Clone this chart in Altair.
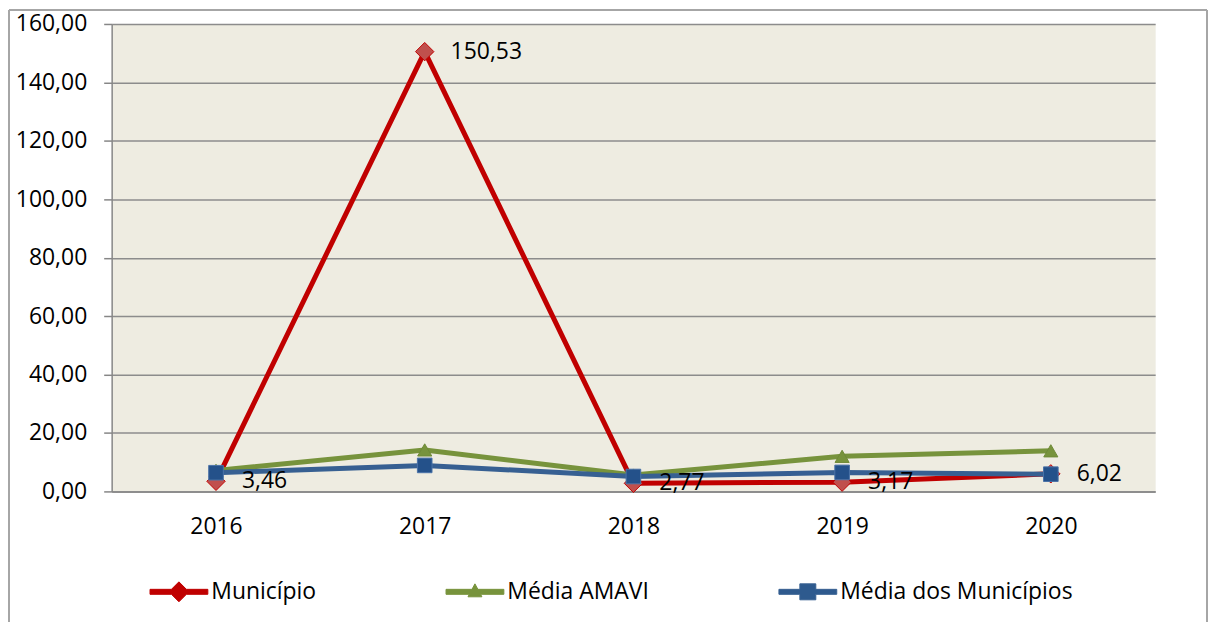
import altair as alt
import pandas as pd

years = ["2016", "2017", "2018", "2019", "2020"]
series = ["Município", "Média AMAVI", "Média dos Municípios"]
municipio = [3.46, 150.53, 2.77, 3.17, 6.02]
amavi = [7.2, 14.2, 5.6, 12.0, 13.9]
media = [6.4, 8.9, 5.1, 6.5, 5.9]
y_ticks = [0, 20, 40, 60, 80, 100, 120, 140, 160]

line_colors = ["#C00000", "#77933C", "#376092"]
marker_fills = ["#C0504D", "#77933C", "#24518A"]
marker_strokes = ["#C00000", "#6E8A37", "#4A72A8"]
shapes = ["diamond", "triangle-up", "square"]
sizes = [340, 200, 215]
legend_fills = ["#C00000", "#77933C", "#2E5A8E"]
# legend symbols: a line segment with the series marker in its middle (unit box -1..1)
legend_shapes = [
    "M-1,-0.086L-0.259,-0.086L0,-0.345L0.259,-0.086L1,-0.086L1,0.086L0.259,0.086L0,0.345L-0.259,0.086L-1,0.086Z",
    "M-1,-0.086L-0.102,-0.086L0,-0.276L0.102,-0.086L1,-0.086L1,0.086L0.195,0.086L0.241,0.172L-0.241,0.172L-0.195,0.086L-1,0.086Z",
    "M-1,-0.086L-0.276,-0.086L-0.276,-0.276L0.276,-0.276L0.276,-0.086L1,-0.086L1,0.086L0.276,0.086L0.276,0.276L-0.276,0.276L-0.276,0.086L-1,0.086Z",
]

FONT = "Open Sans"
FS = 23

rows = []
for i, (name, vals) in enumerate(zip(series, [municipio, amavi, media])):
    for yr, v in zip(years, vals):
        rows.append({"ano": yr, "valor": v, "serie": name,
                     "rotulo": f"{v:.2f}".replace(".", ",")})
df = pd.DataFrame(rows)

x_enc = alt.X("ano:O", scale=alt.Scale(type="point", padding=0.5),
              axis=alt.Axis(title=None, labelAngle=0, ticks=False, tickSize=0,
                            domainColor="#868686", domainWidth=1.5, grid=False,
                            labelFont=FONT, labelFontSize=FS, labelColor="black",
                            labelPadding=24))
y_enc = alt.Y("valor:Q", scale=alt.Scale(domain=[0, 160], nice=False),
              axis=alt.Axis(title=None, values=y_ticks,
                            labelExpr="replace(format(datum.value, '.2f'), '.', ',')",
                            tickSize=8, tickColor="#868686", tickWidth=1.5,
                            domainColor="#868686", domainWidth=1.5,
                            gridColor="#8C8C8C", gridWidth=1.5,
                            labelFont=FONT, labelFontSize=FS, labelColor="black",
                            labelPadding=17))

legend = alt.Legend(title=None, orient="none", legendX=38, legendY=540,
                    direction="horizontal", columns=3, columnPadding=127,
                    symbolSize=3364, symbolStrokeWidth=1, symbolOpacity=1,
                    labelFont=FONT, labelFontSize=FS, labelColor="black",
                    labelOffset=3, labelLimit=0)

stroke_enc = alt.Stroke("serie:N", scale=alt.Scale(domain=series, range=line_colors),
                        legend=legend)

layers = []
for i, name in enumerate(series):
    base = alt.Chart(df).transform_filter(alt.datum.serie == name)
    line = base.mark_line(strokeWidth=5, strokeJoin="round", strokeCap="round").encode(
        x=x_enc, y=y_enc, stroke=stroke_enc)
    pts = base.mark_point(filled=True, opacity=1, shape=shapes[i], size=sizes[i],
                          fill=marker_fills[i], stroke=marker_strokes[i],
                          strokeWidth=1).encode(x=x_enc, y=y_enc)
    layers += [line, pts]

# legend carrier (draws nothing in the plot)
legend_layer = alt.Chart(df).transform_filter("false").mark_point(filled=True).encode(
    x=x_enc, y=y_enc, stroke=stroke_enc,
    fill=alt.Fill("serie:N", scale=alt.Scale(domain=series, range=legend_fills), legend=legend),
    shape=alt.Shape("serie:N", scale=alt.Scale(domain=series, range=legend_shapes), legend=legend),
)
layers.append(legend_layer)

labels = alt.Chart(df).transform_filter(alt.datum.serie == series[0]).mark_text(
    align="left", baseline="middle", dx=26, font=FONT, fontSize=FS, color="black"
).encode(x=x_enc, y=y_enc, text="rotulo:N")
layers.append(labels)

frame_data = alt.Data(values=[{"f": 1}])
frame_left = alt.Chart(frame_data).mark_rule(color="#A6A6A6", strokeWidth=2).encode(
    x=alt.value(-103), y=alt.value(-14), y2=alt.value(700))
frame_right = alt.Chart(frame_data).mark_rule(color="#A6A6A6", strokeWidth=2).encode(
    x=alt.value(1099), y=alt.value(-14), y2=alt.value(700))
frame_top = alt.Chart(frame_data).mark_rule(color="#A6A6A6", strokeWidth=2).encode(
    x=alt.value(-103), x2=alt.value(1099), y=alt.value(-14))
layers += [frame_left, frame_right, frame_top]

chart = alt.layer(*layers).properties(
    width=1047, height=469,
    autosize=alt.AutoSizeParams(type="none"),
    padding={"left": 104, "top": 15, "right": 53, "bottom": 130},
    background="white",
).configure_view(fill="#EEECE1", stroke="transparent")

chart.save("out.html", embed_options={"renderer": "svg", "actions": False})
